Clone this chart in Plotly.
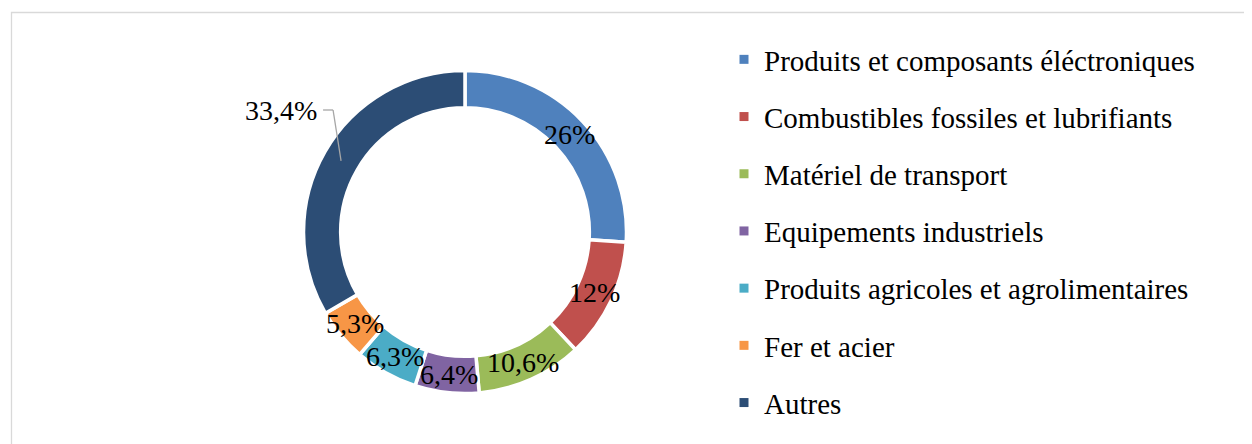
import numpy as np
import plotly.graph_objects as go

categories = [
    "Produits et composants éléctroniques",
    "Combustibles fossiles et lubrifiants",
    "Matériel de transport",
    "Equipements industriels",
    "Produits agricoles et agrolimentaires",
    "Fer et acier",
    "Autres",
]
values = [26, 12, 10.6, 6.4, 6.3, 5.3, 33.4]
value_labels = ["26%", "12%", "10,6%", "6,4%", "6,3%", "5,3%", "33,4%"]
colors = ["#4F81BD", "#C0504D", "#9BBB59", "#8064A2", "#4BACC6", "#F79646", "#2C4D75"]

W, H = 1252, 444
OFF = 8  # page body margin
cx, cy, R = 465 - OFF, 232 - OFF, 161.5
hole = 0.77
FONT = "Liberation Serif, Times New Roman, Times, serif"

fig = go.Figure()
fig.add_trace(go.Pie(
    labels=categories, values=values, sort=False, direction="clockwise", rotation=0,
    hole=hole, marker=dict(colors=colors, line=dict(color="white", width=3.5)),
    textinfo="none", showlegend=False, hoverinfo="label+percent",
    domain=dict(x=[(cx - R) / W, (cx + R) / W], y=[1 - (cy + R) / H, 1 - (cy - R) / H]),
))

# legend via dummy traces
for name, col in zip(categories, colors):
    fig.add_trace(go.Scatter(x=[None], y=[None], mode="markers", name=name,
                             marker=dict(symbol="square", size=9, color=col),
                             legendgroup=name, showlegend=True))

# data labels at ring middle
vals = np.array(values, dtype=float)
cum = np.cumsum(vals) - vals / 2
ang = cum / vals.sum() * 2 * np.pi
rmid = R * (1 + hole) / 2
for i, (lab, a) in enumerate(zip(value_labels, ang)):
    px = cx + rmid * np.sin(a)
    py = cy - rmid * np.cos(a)
    if i == len(values) - 1:
        ex, ey = px - 8, 110 - OFF
        fig.add_shape(type="line", xref="paper", yref="paper",
                      x0=px / W, y0=1 - py / H, x1=ex / W, y1=1 - ey / H,
                      line=dict(color="#A6A6A6", width=1.3))
        fig.add_shape(type="line", xref="paper", yref="paper",
                      x0=ex / W, y0=1 - ey / H, x1=(ex - 10) / W, y1=1 - ey / H,
                      line=dict(color="#A6A6A6", width=1.3))
        fig.add_annotation(x=(ex - 14) / W, y=1 - ey / H, xref="paper", yref="paper",
                           text=lab, showarrow=False, xanchor="right", yanchor="middle",
                           font=dict(family=FONT, size=28, color="black"))
    else:
        fig.add_annotation(x=px / W, y=1 - py / H, xref="paper", yref="paper",
                           text=lab, showarrow=False, xanchor="center", yanchor="middle",
                           font=dict(family=FONT, size=28, color="black"))

# outer frame
fig.add_shape(type="rect", xref="paper", yref="paper",
              x0=(11.5 - OFF) / W, y0=-0.05, x1=1.05, y1=1 - (12.5 - OFF) / H,
              line=dict(color="#D9D9D9", width=1.3), fillcolor="rgba(0,0,0,0)", layer="below")

fig.update_layout(
    width=W, height=H, margin=dict(l=0, r=0, t=0, b=0),
    paper_bgcolor="white", plot_bgcolor="white",
    xaxis=dict(visible=False), yaxis=dict(visible=False),
    font=dict(family=FONT, color="black"),
    legend=dict(x=(724 - OFF) / W, y=1 - (34 - OFF) / H, xanchor="left", yanchor="top",
                font=dict(family=FONT, size=29, color="black"),
                tracegroupgap=16.5, itemwidth=30, bgcolor="rgba(0,0,0,0)",
                traceorder="grouped"),
)

fig.write_html("out.html")
